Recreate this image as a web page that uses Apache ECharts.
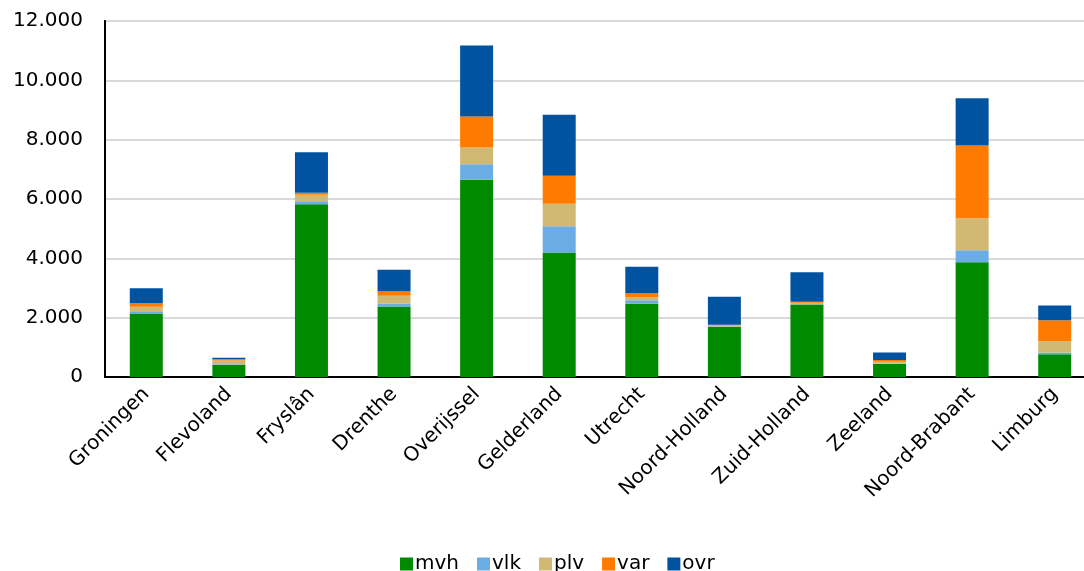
<!DOCTYPE html>
<html>
<head>
<meta charset="utf-8">
<script src="https://cdn.jsdelivr.net/npm/echarts@6/dist/echarts.min.js"></script>
<style>html,body{margin:0;padding:0;background:#fff;overflow:hidden}#c{width:1110px;height:571px}</style>
</head>
<body>
<div id="c"></div>
<script>
const categories = ['Groningen','Flevoland','Fryslân','Drenthe','Overijssel','Gelderland','Utrecht','Noord-Holland','Zuid-Holland','Zeeland','Noord-Brabant','Limburg'];
const mvh = [2140, 410, 5820, 2380, 6650, 4200, 2470, 1690, 2440, 440, 3870, 770];
const vlk = [55, 20, 100, 90, 525, 885, 115, 15, 15, 10, 405, 55];
const plv = [170, 125, 225, 270, 565, 755, 110, 45, 45, 65, 1080, 380];
const vAr = [125, 45, 65, 160, 1045, 945, 125, 15, 35, 55, 2450, 710];
const ovr = [505, 45, 1370, 715, 2385, 2055, 895, 940, 1000, 255, 1595, 495];
const yTicks = [0, 2000, 4000, 6000, 8000, 10000, 12000];

const seriesDefs = [
  {name:'mvh', data:mvh, color:'#008a00'},
  {name:'vlk', data:vlk, color:'#6aade4'},
  {name:'plv', data:plv, color:'#d1b973'},
  {name:'var', data:vAr, color:'#ff7b00'},
  {name:'ovr', data:ovr, color:'#0053a1'}
];
const fmt = v => String(v).replace(/\B(?=(\d{3})+(?!\d))/g, '.');
const font = '"DejaVu Sans", Verdana, sans-serif';
const chart = echarts.init(document.getElementById('c'), null, {renderer:'canvas'});
chart.setOption({
  animation:false,
  backgroundColor:'#fff',
  textStyle:{fontFamily:font},
  grid:{left:105, top:21, width:991, height:356, show:true, borderColor:'#000', borderWidth:2, backgroundColor:'transparent'},
  legend:{
    left:395, top:549, itemWidth:13, itemHeight:13, itemGap:18,
    icon:'rect',
    textStyle:{fontFamily:font, fontSize:20, color:'#000', padding:[0,0,0,-3]},
    data:seriesDefs.map(s=>s.name)
  },
  xAxis:{
    type:'category', data:categories,
    axisLine:{lineStyle:{color:'#000', width:2}},
    axisTick:{show:false},
    axisLabel:{rotate:45, fontFamily:font, fontSize:20, color:'#000', margin:14, interval:0}
  },
  yAxis:{
    type:'value', min:yTicks[0], max:yTicks[yTicks.length-1], interval:2000,
    axisLine:{show:true, lineStyle:{color:'#000', width:2}},
    axisTick:{show:false},
    splitLine:{lineStyle:{color:'#d9d9d9', width:2}},
    axisLabel:{fontFamily:font, fontSize:20, color:'#000', margin:22, formatter:v=>fmt(v)}
  },
  series:seriesDefs.map(s=>({
    name:s.name, type:'bar', stack:'total', data:s.data, barWidth:33,
    itemStyle:{color:s.color}
  }))
});
</script>
</body>
</html>
